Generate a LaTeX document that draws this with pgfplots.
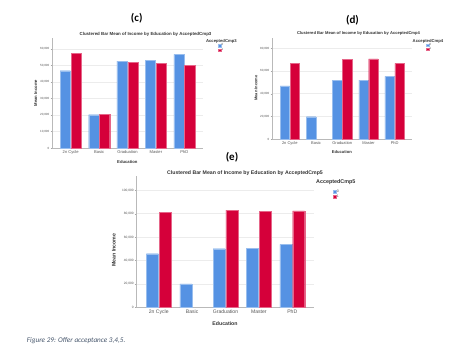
\documentclass[border=0pt]{standalone}
\usepackage{fontspec}
\setmainfont{Liberation Sans}
\newfontfamily\calibri{Carlito}
\usepackage{pgfplots}
\pgfplotsset{compat=1.18}
\definecolor{spssblue}{HTML}{5592E3}
\definecolor{spssred}{HTML}{D5003A}
\definecolor{txtgray}{HTML}{333333}
\definecolor{ticgray}{HTML}{555555}
\definecolor{capcol}{HTML}{44546A}
\pgfplotsset{
  spss/.style={
    scale only axis, ybar, bar width=0.36,
    axis x line*=bottom, axis y line*=left,
    axis line style={draw=gray!55, -, line width=0.4pt},
    ymin=0,
    xtick={0,1,2,3,4},
    xticklabels={2n Cycle,Basic,Graduation,Master,PhD},
    xtick style={draw=none},
    ytick style={draw=gray!70, line width=0.3pt},
    tick align=outside, major tick length=1.2pt,
    ymajorgrids, grid style={draw=gray!15, line width=0.9pt},
    scaled y ticks=false,
    /pgf/number format/.cd, fixed, 1000 sep={,}, assume math mode=true,
    /pgfplots/.cd,
    yticklabel style={text=ticgray, inner sep=1pt},
    xticklabel style={text=ticgray, inner sep=1pt},
    legend style={draw=none, fill=none, inner sep=0pt, row sep=-0.6pt,
      nodes={inner sep=0.6pt, text=ticgray}},
    legend cell align=left,
    clip=false,
  },
  b0/.style={fill=spssblue, draw=white!40!spssblue, line width=0.2pt, bar shift=-0.19},
  b1/.style={fill=spssred, draw=white!40!spssred, line width=0.2pt, bar shift=0.19},
}
\pgfplotstableread{
x c0 c1 d0 e0
0 46900 57600 46900 45900
1 20200 20400 19900 20100
2 52700 52100 51900 50100
3 53100 51500 51900 50400
4 56800 50300 55400 53800
}\tabA
\pgfplotstableread{
x d1 e1
0 66800 81000
2 70300 83000
3 70600 81900
4 66800 82400
}\tabB
\begin{document}
\begin{tikzpicture}
\path[use as bounding box] (0,0) rectangle (465pt,353pt);
% ---------- (c)
\begin{axis}[spss, at={(51.7pt,205pt)}, anchor=south west,
  width=151.3pt, height=110pt,
  xmin=-0.67, xmax=4.66, ymax=66700,
  ytick={0,10000,20000,30000,40000,50000,60000},
  yticklabel style={font=\fontsize{3}{3}\selectfont},
  xticklabel style={font=\fontsize{4.1}{4}\selectfont},
  xlabel={\textbf{Education}}, xlabel style={font=\fontsize{4.2}{4}\selectfont, text=txtgray, at={(axis description cs:0.5,-0.125)}, anchor=center},
  ylabel={\textbf{Mean Income}}, ylabel style={font=\fontsize{4.2}{4}\selectfont, text=txtgray, at={(axis description cs:-0.106,0.5)}, anchor=center},
  legend style={at={(axis description cs:1.1,0.955)}, anchor=north west, font=\fontsize{3}{3}\selectfont},
  legend image code/.code={\fill[#1] (0pt,-1.1pt) rectangle (2.4pt,1.1pt);},
]
\addplot[b0] table[x=x,y=c0]{\tabA};
\addplot[b1] table[x=x,y=c1]{\tabA};
\legend{0,1}
\end{axis}
% ---------- (d)
\begin{axis}[spss, at={(271.7pt,213.7pt)}, anchor=south west,
  width=140.3pt, height=101.6pt,
  xmin=-0.69, xmax=4.66, ymax=89300,
  ytick={0,20000,40000,60000,80000},
  yticklabel style={font=\fontsize{3}{3}\selectfont},
  xticklabel style={font=\fontsize{4}{4}\selectfont},
  xlabel={\textbf{Education}}, xlabel style={font=\fontsize{4.1}{4}\selectfont, text=txtgray, at={(axis description cs:0.5,-0.125)}, anchor=center},
  ylabel={\textbf{Mean Income}}, ylabel style={font=\fontsize{4}{4}\selectfont, text=txtgray, at={(axis description cs:-0.112,0.505)}, anchor=center},
  legend style={at={(axis description cs:1.1,0.955)}, anchor=north west, font=\fontsize{3}{3}\selectfont},
  legend image code/.code={\fill[#1] (0pt,-1.1pt) rectangle (2.4pt,1.1pt);},
]
\addplot[b0] table[x=x,y=d0]{\tabA};
\addplot[b1] table[x=x,y=d1]{\tabB};
\legend{0,1}
\end{axis}
% ---------- (e)
\begin{axis}[spss, at={(136pt,45.5pt)}, anchor=south west,
  width=178pt, height=131.5pt,
  xmin=-0.68, xmax=4.65, ymax=112100,
  ytick={0,20000,40000,60000,80000,100000},
  yticklabel style={font=\fontsize{3.2}{3}\selectfont},
  xticklabel style={font=\fontsize{5.1}{5}\selectfont},
  xlabel={\textbf{Education}}, xlabel style={font=\fontsize{5.2}{5}\selectfont, text=txtgray, at={(axis description cs:0.5,-0.12)}, anchor=center},
  ylabel={\textbf{Mean Income}}, ylabel style={font=\fontsize{5.2}{5}\selectfont, text=txtgray, at={(axis description cs:-0.124,0.437)}, anchor=center},
  legend style={at={(axis description cs:1.105,0.9)}, anchor=north west, font=\fontsize{3.6}{3.6}\selectfont},
  legend image code/.code={\fill[#1] (0pt,-1.5pt) rectangle (3.2pt,1.5pt);},
]
\addplot[b0] table[x=x,y=e0]{\tabA};
\addplot[b1] table[x=x,y=e1]{\tabB};
\legend{0,1}
\end{axis}
% ---------- texts
\node[font=\calibri\bfseries\fontsize{11}{11}\selectfont] at (136.7pt,334.7pt) {(c)};
\node[font=\calibri\bfseries\fontsize{11}{11}\selectfont] at (352.5pt,333pt) {(d)};
\node[font=\calibri\bfseries\fontsize{11}{11}\selectfont] at (232pt,196pt) {(e)};
\node[font=\bfseries\fontsize{4.4}{4}\selectfont, text=txtgray] at (145.5pt,318.7pt) {Clustered Bar Mean of Income by Education by AcceptedCmp3};
\node[font=\bfseries\fontsize{4.1}{4}\selectfont, text=txtgray] at (358.5pt,319.7pt) {Clustered Bar Mean of Income by Education by AcceptedCmp4};
\node[font=\bfseries\fontsize{5.2}{5}\selectfont, text=txtgray] at (245pt,180.3pt) {Clustered Bar Mean of Income by Education by AcceptedCmp5};
\node[font=\bfseries\fontsize{4.2}{4}\selectfont, text=txtgray] at (221.4pt,312pt) {AcceptedCmp3};
\node[font=\bfseries\fontsize{4.2}{4}\selectfont, text=txtgray] at (428pt,312pt) {AcceptedCmp4};
\node[font=\bfseries\fontsize{5.4}{5}\selectfont, text=txtgray] at (335.8pt,170.7pt) {AcceptedCmp5};
\node[anchor=west, inner sep=0pt, font=\calibri\itshape\fontsize{7.2}{7}\selectfont, text=capcol] at (26.7pt,12.3pt) {Figure 29: Offer acceptance 3,4,5.};
\end{tikzpicture}
\end{document}
